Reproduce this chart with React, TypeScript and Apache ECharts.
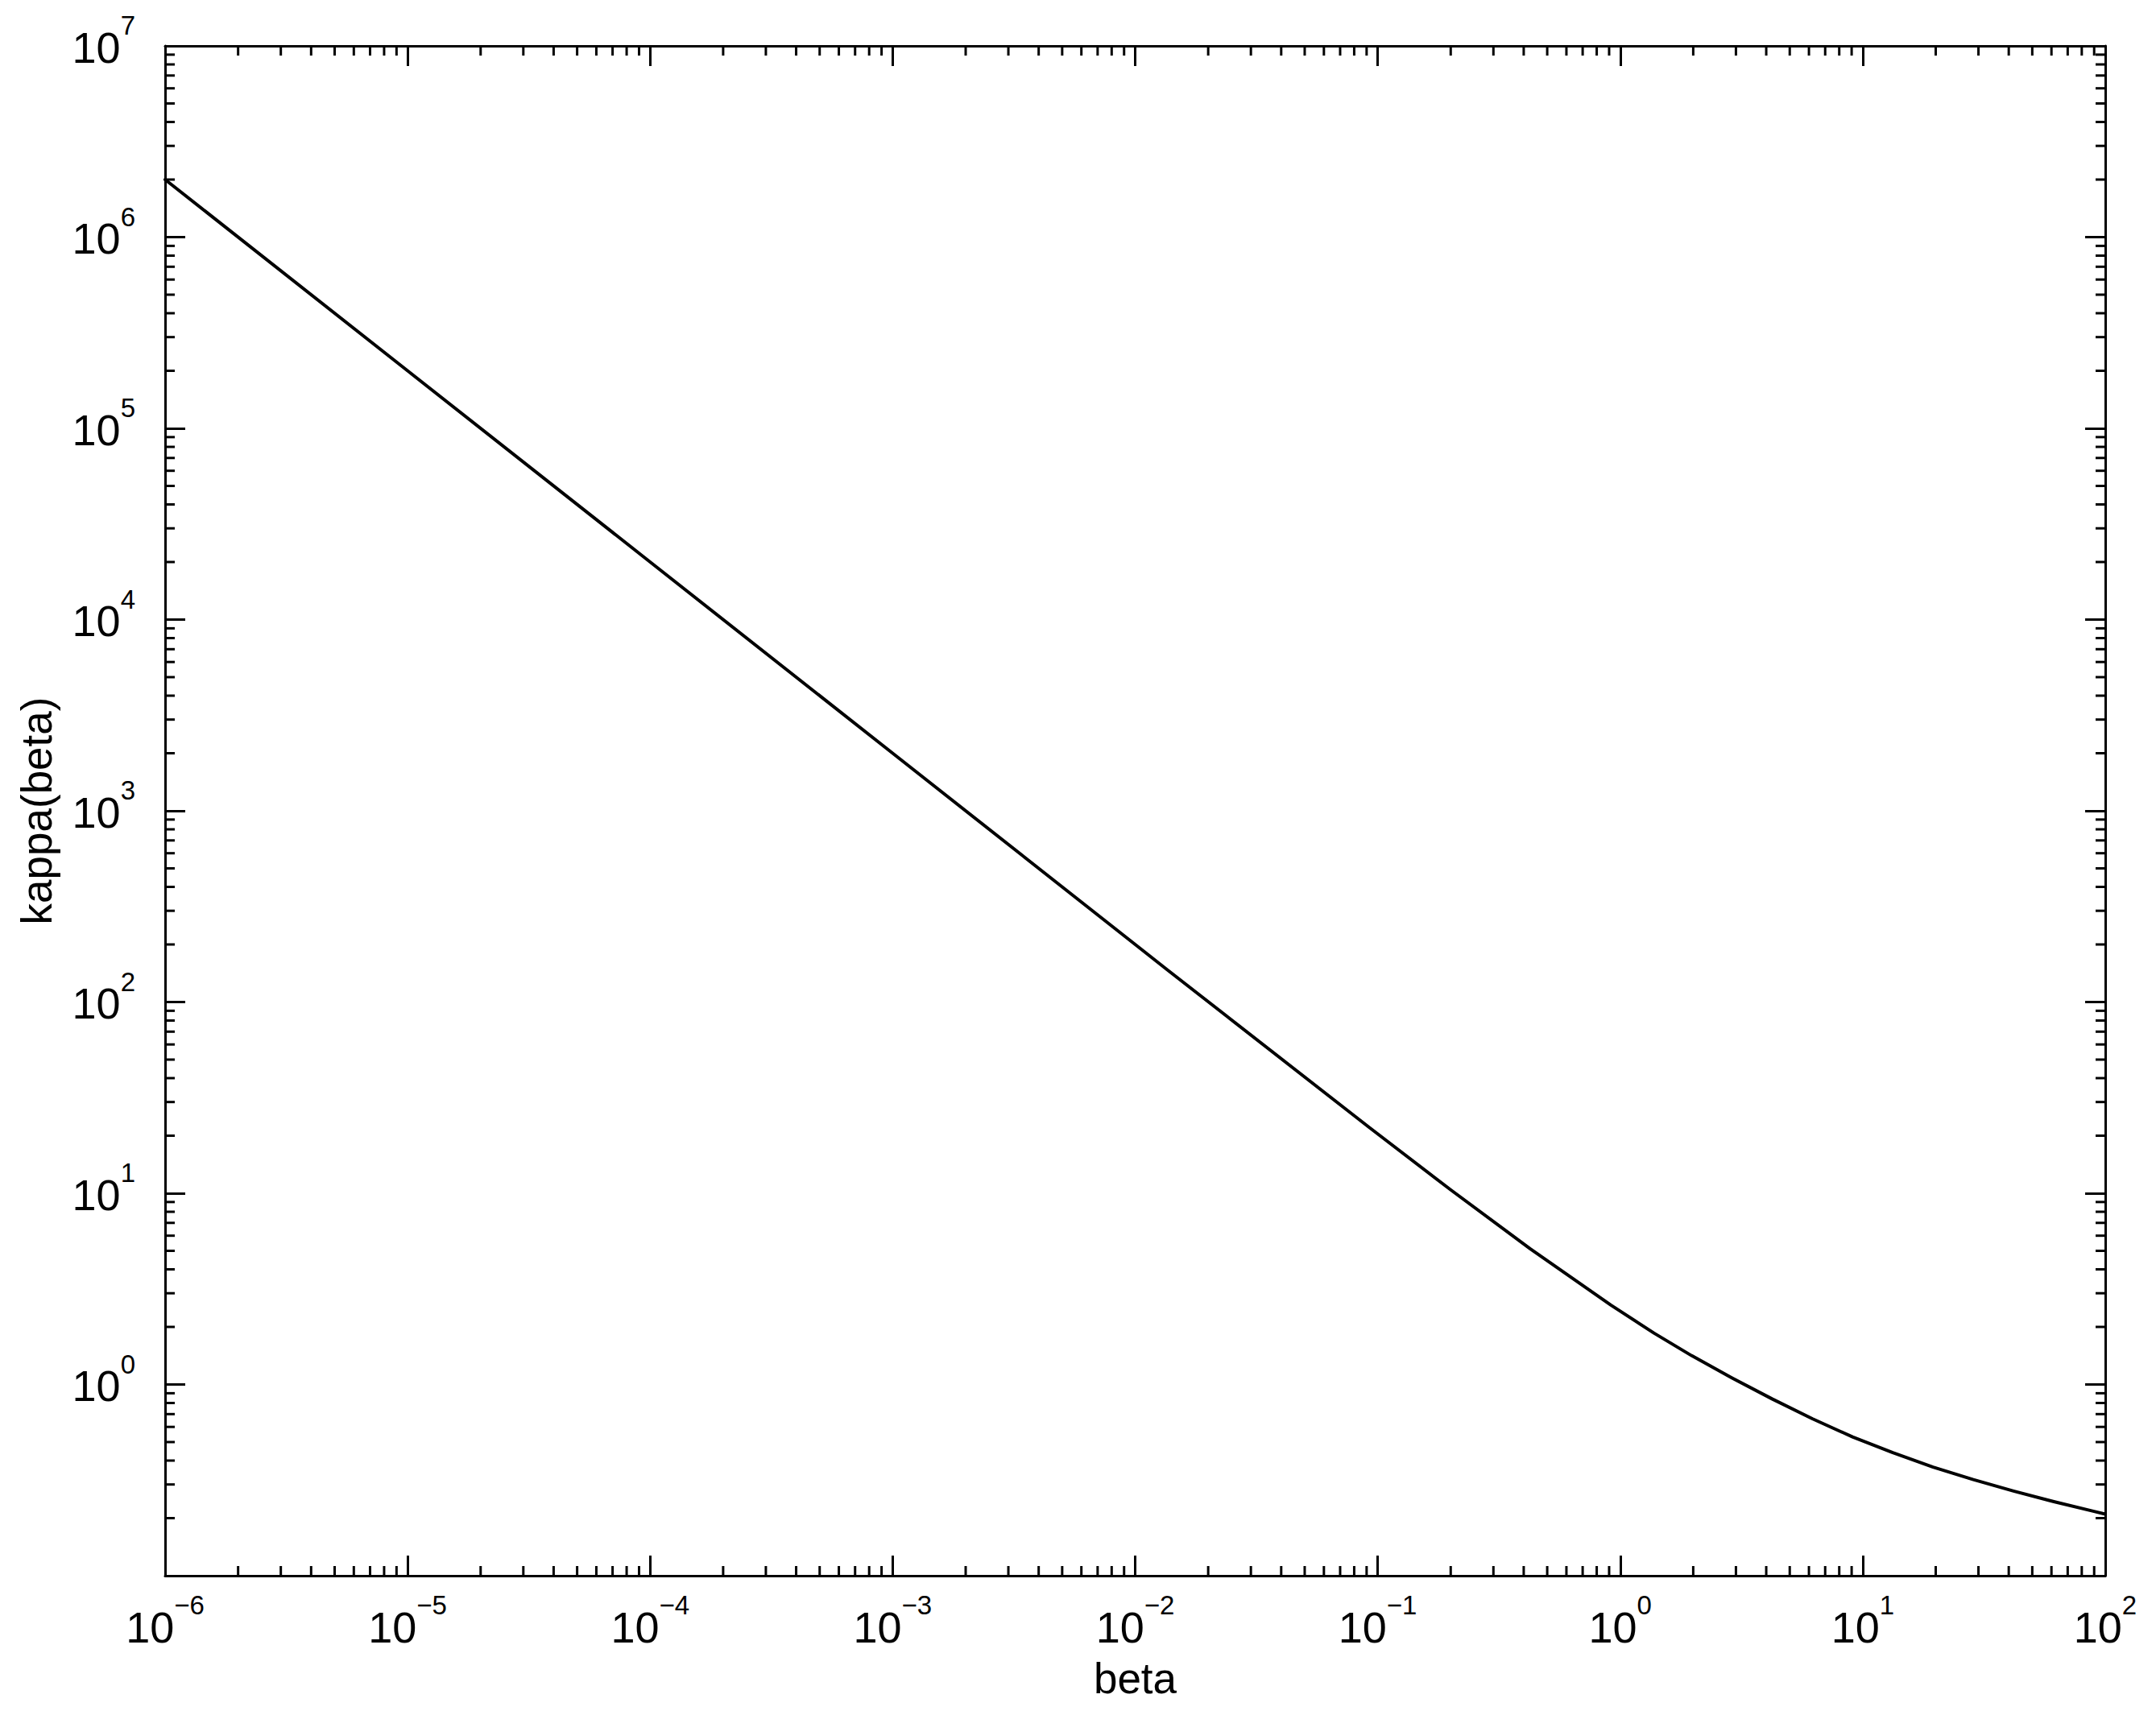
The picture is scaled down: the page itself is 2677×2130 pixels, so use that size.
import React, { useEffect, useRef } from 'react';
import * as echarts from 'echarts';

// Curve readings: beta -> kappa(beta)
const betaValues = [1e-6, 1e-5, 1e-4, 1e-3, 1e-2, 0.0136, 0.0923, 0.2, 0.425, 0.915, 1.377, 1.968, 2.884, 4.227, 6.194, 9.078, 13.3, 19.5, 28.58, 41.88, 61.38, 89.95, 100];
const kappaValues = [2.0e6, 2.0e5, 2.0e4, 2.0e3, 200, 147, 22.1, 10.42, 5.13, 2.6, 1.857, 1.416, 1.084, 0.841, 0.662, 0.532, 0.44, 0.37, 0.318, 0.277, 0.244, 0.217, 0.21];

// Axis ranges and tick definitions
const X_MIN = 1e-6;
const X_MAX = 100;
const Y_MIN = 0.1;
const Y_MAX = 1e7;
const xMajorExponents = [-6, -5, -4, -3, -2, -1, 0, 1];
const yMajorExponents = [-1, 0, 1, 2, 3, 4, 5, 6];
const minorMultipliers = [2, 3, 4, 5, 6, 7, 8, 9];
const xLabelExponents = [-6, -5, -4, -3, -2, -1, 0, 1, 2];
const yLabelExponents = [0, 1, 2, 3, 4, 5, 6, 7];

const xName = 'beta';
const yName = 'kappa(beta)';

const FONT = '"Liberation Sans", Arial, Helvetica, sans-serif';
const MAIN_SIZE = 54;
const SUP_SIZE = 33;
const NAME_SIZE = 53;
const MAJOR_LEN = 25;
const MINOR_LEN = 12;
const LW = 3;

const xMinor: number[] = [];
xMajorExponents.forEach((e) => minorMultipliers.forEach((m) => xMinor.push(m * Math.pow(10, e))));
const yMinor: number[] = [];
yMajorExponents.forEach((e) => minorMultipliers.forEach((m) => yMinor.push(m * Math.pow(10, e))));

const supText = (e: number) => (e < 0 ? '\u2212' + Math.abs(e) : String(e));

const baseAxis = (type: 'x' | 'y', position: string) => ({
  type: 'log',
  logBase: 10,
  position,
  min: type === 'x' ? X_MIN : Y_MIN,
  max: type === 'x' ? X_MAX : Y_MAX,
  interval: 1,
  axisLine: { show: true, onZero: false, lineStyle: { color: '#000', width: LW } },
  axisTick: { show: true, inside: true, length: MAJOR_LEN, lineStyle: { color: '#000', width: LW } },
  minorTick: { show: false },
  splitLine: { show: false },
  minorSplitLine: { show: false },
  axisLabel: { show: false },
});

export default function App() {
  const ref = useRef<HTMLDivElement>(null);
  useEffect(() => {
    if (!ref.current) return;
    const chart = echarts.init(ref.current, undefined, { renderer: 'svg' });
    const lineData = betaValues.map((b, i) => [b, kappaValues[i]]);
    const tickStyle = { stroke: '#000', lineWidth: LW };
    chart.setOption({
      animation: false,
      backgroundColor: '#fff',
      textStyle: { fontFamily: FONT },
      grid: { left: 205, top: 57, width: 2409, height: 1900, containLabel: false, outerBoundsMode: 'none' },
      xAxis: [
        {
          ...baseAxis('x', 'bottom'),
          name: xName,
          nameLocation: 'middle',
          nameGap: 101,
          nameTextStyle: { fontSize: NAME_SIZE, fontFamily: FONT, color: '#000' },
        },
        { ...baseAxis('x', 'top') },
      ],
      yAxis: [
        {
          ...baseAxis('y', 'left'),
          name: yName,
          nameLocation: 'middle',
          nameGap: 133,
          nameTextStyle: { fontSize: NAME_SIZE, fontFamily: FONT, color: '#000' },
        },
        { ...baseAxis('y', 'right') },
      ],
      series: [
        {
          type: 'line',
          data: lineData,
          showSymbol: false,
          symbol: 'none',
          smooth: false,
          lineStyle: { color: '#000', width: 4, join: 'round', cap: 'round' },
          z: 3,
          silent: true,
        },
        {
          type: 'custom',
          silent: true,
          data: xMinor.map((v) => [v, 1]),
          renderItem: (params: any, api: any) => {
            const v = api.value(0);
            const b = api.coord([v, Y_MIN]);
            const t = api.coord([v, Y_MAX]);
            return {
              type: 'group',
              children: [
                { type: 'line', shape: { x1: b[0], y1: b[1], x2: b[0], y2: b[1] - MINOR_LEN }, style: tickStyle },
                { type: 'line', shape: { x1: t[0], y1: t[1], x2: t[0], y2: t[1] + MINOR_LEN }, style: tickStyle },
              ],
            };
          },
        },
        {
          type: 'custom',
          silent: true,
          data: yMinor.map((v) => [1, v]),
          renderItem: (params: any, api: any) => {
            const v = api.value(1);
            const l = api.coord([X_MIN, v]);
            const r = api.coord([X_MAX, v]);
            return {
              type: 'group',
              children: [
                { type: 'line', shape: { x1: l[0], y1: l[1], x2: l[0] + MINOR_LEN, y2: l[1] }, style: tickStyle },
                { type: 'line', shape: { x1: r[0], y1: r[1], x2: r[0] - MINOR_LEN, y2: r[1] }, style: tickStyle },
              ],
            };
          },
        },
      ],
    });

    // Tick labels "10^e" drawn as real text, placed with the axes' own scales
    const ctx = document.createElement('canvas').getContext('2d');
    const measure = (t: string, size: number) => {
      if (!ctx) return t.length * size * 0.556;
      ctx.font = `${size}px ${FONT}`;
      return ctx.measureText(t).width;
    };
    const txt = (text: string, x: number, y: number, size: number, align: string) => ({
      type: 'text',
      silent: true,
      x,
      y,
      style: {
        text,
        fontSize: size,
        fontFamily: FONT,
        fill: '#000',
        align,
        verticalAlign: 'middle',
        textAlign: align,
        textVerticalAlign: 'middle',
      },
    });
    const graphics: any[] = [];
    const mainW = measure('10', MAIN_SIZE);
    xLabelExponents.forEach((e) => {
      const p = chart.convertToPixel({ xAxisIndex: 0, yAxisIndex: 0 }, [Math.pow(10, e), Y_MIN]) as number[];
      const s = supText(e);
      const w = mainW + measure(s, SUP_SIZE);
      const left = p[0] - w / 2;
      graphics.push(txt('10', left, p[1] + 64, MAIN_SIZE, 'left'));
      graphics.push(txt(s, left + mainW, p[1] + 36, SUP_SIZE, 'left'));
    });
    yLabelExponents.forEach((e) => {
      const p = chart.convertToPixel({ xAxisIndex: 0, yAxisIndex: 0 }, [X_MIN, Math.pow(10, e)]) as number[];
      const s = supText(e);
      const right = p[0] - 37;
      const sw = measure(s, SUP_SIZE);
      graphics.push(txt('10', right - sw, p[1] + 1.5, MAIN_SIZE, 'right'));
      graphics.push(txt(s, right - sw, p[1] - 25.5, SUP_SIZE, 'left'));
    });
    chart.setOption({ graphic: { elements: graphics } });

    return () => chart.dispose();
  }, []);
  return <div ref={ref} style={{ position: 'fixed', left: 0, top: 0, width: 2677, height: 2130 }} />;
}
